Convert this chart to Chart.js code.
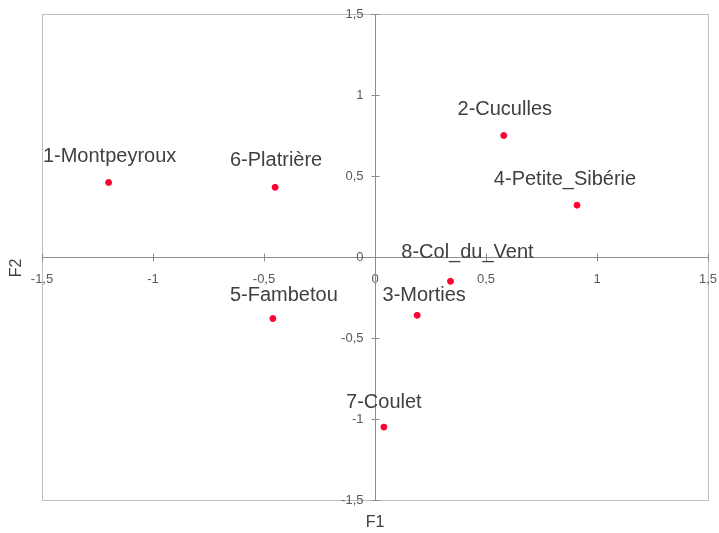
<!DOCTYPE html>
<html>
<head>
<meta charset="utf-8">
<script src="https://cdn.jsdelivr.net/npm/chart.js@4"></script>
<style>
  html, body { margin: 0; padding: 0; background: #fff; }
  canvas { display: block; }
</style>
</head>
<body>
<canvas id="acpChart" width="719" height="533"></canvas>
<script>
// ACP - individus sur le plan F1 x F2
const sites = ['1-Montpeyroux', '2-Cuculles', '3-Morties', '4-Petite_Sibérie',
               '5-Fambetou', '6-Platrière', '7-Coulet', '8-Col_du_Vent'];
const f1 = [-1.20, 0.58, 0.19, 0.91, -0.46, -0.45, 0.04, 0.34];
const f2 = [0.46, 0.75, -0.36, 0.32, -0.38, 0.43, -1.05, -0.15];
const axisTicks = [-1.5, -1, -0.5, 0, 0.5, 1, 1.5];

// small nudges so labels sit where they were placed in the original
const labelNudge = [[1, -26], [1, -26], [7, -20], [-12, -26],
                    [11, -23], [1, -27], [0, -25], [17, -29]];

const points = sites.map((s, i) => ({ x: f1[i], y: f2[i] }));

const fmt = v => String(v).replace('.', ',');
const tickFont = '13px "Liberation Sans", Arial, sans-serif';
const noPad = s => { s.paddingLeft = s.paddingRight = s.paddingTop = s.paddingBottom = 0; };

const frameAndLabels = {
    id: 'frameAndLabels',
    beforeDraw(chart) {
        const { ctx, chartArea: a } = chart;
        ctx.save();
        ctx.strokeStyle = '#bfbfbf';
        ctx.lineWidth = 1;
        ctx.strokeRect(a.left + 0.5, a.top + 0.5, a.right - a.left, a.bottom - a.top);
        ctx.restore();
    },
    afterDraw(chart) {
        const { ctx, chartArea: a, scales } = chart;
        ctx.save();
        // cross tick marks like the original
        ctx.strokeStyle = '#8c8c8c';
        ctx.lineWidth = 1;
        const y0 = Math.round(scales.y.getPixelForValue(0)) + 0.5;
        const x0 = Math.round(scales.x.getPixelForValue(0)) + 0.5;
        axisTicks.forEach(v => {
            const px = Math.round(scales.x.getPixelForValue(v)) + 0.5;
            const py = Math.round(scales.y.getPixelForValue(v)) + 0.5;
            ctx.beginPath();
            ctx.moveTo(px, y0 - 4); ctx.lineTo(px, y0 + 4);
            ctx.moveTo(x0 - 4, py); ctx.lineTo(x0 + 4, py);
            ctx.stroke();
        });

        // y tick labels, kept a little off the central axis
        ctx.fillStyle = '#595959';
        ctx.font = tickFont;
        ctx.textAlign = 'right';
        ctx.textBaseline = 'middle';
        scales.y.ticks.forEach(t => {
            ctx.fillText(fmt(t.value), x0 - 12, scales.y.getPixelForValue(t.value));
        });

        // point labels
        ctx.fillStyle = '#404040';
        ctx.font = '20px "Liberation Sans", Arial, sans-serif';
        ctx.textAlign = 'center';
        chart.getDatasetMeta(0).data.forEach((pt, i) => {
            ctx.fillText(sites[i], pt.x + labelNudge[i][0], pt.y + labelNudge[i][1]);
        });

        // axis titles
        ctx.font = '16px "Liberation Sans", Arial, sans-serif';
        ctx.fillText('F1', (a.left + a.right) / 2, 523);
        ctx.translate(17, 268);
        ctx.rotate(-Math.PI / 2);
        ctx.fillText('F2', 0, 0);
        ctx.restore();
    }
};

new Chart(document.getElementById('acpChart'), {
    type: 'scatter',
    data: {
        datasets: [{
            data: points,
            backgroundColor: '#ff0033',
            borderColor: '#ff0033',
            pointRadius: 3,
            pointHoverRadius: 3
        }]
    },
    options: {
        responsive: false,
        animation: false,
        layout: { padding: { left: 42, right: 11, top: 14, bottom: 33 } },
        plugins: { legend: { display: false }, tooltip: { enabled: false } },
        scales: {
            x: {
                type: 'linear',
                position: { y: 0 },
                min: -1.5, max: 1.5,
                afterBuildTicks: s => { s.ticks = axisTicks.map(v => ({ value: v })); },
                afterFit: noPad,
                ticks: {
                    callback: fmt, color: '#595959', padding: 15,
                    font: { family: '"Liberation Sans", Arial', size: 13 },
                    maxRotation: 0, autoSkip: false
                },
                grid: { drawOnChartArea: false, drawTicks: false },
                border: { color: '#8c8c8c', width: 1 }
            },
            y: {
                type: 'linear',
                position: { x: 0 },
                min: -1.5, max: 1.5,
                afterBuildTicks: s => { s.ticks = axisTicks.map(v => ({ value: v })); },
                afterFit: noPad,
                ticks: { display: false, autoSkip: false },
                grid: { drawOnChartArea: false, drawTicks: false },
                border: { color: '#8c8c8c', width: 1 }
            }
        }
    },
    plugins: [frameAndLabels]
});
</script>
</body>
</html>
